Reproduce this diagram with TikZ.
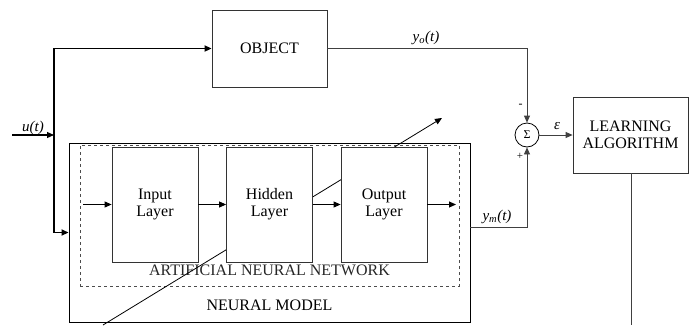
\documentclass[tikz,border=0pt]{standalone}
\usepackage{fontspec}
\setmainfont{Liberation Serif}
\usetikzlibrary{arrows.meta}
\begin{document}
\begin{tikzpicture}[x=1pt,y=-1pt,
  txt/.style={font=\fontsize{16}{18}\selectfont},
  blk/.style={draw=black!80,line width=0.8pt,fill=white,inner sep=0pt,align=center,txt},
  lbl/.style={font=\fontsize{15}{17}\selectfont\itshape,inner sep=0pt},
  thin/.style={draw=black!75,line width=0.8pt},
  thick/.style={draw=black,line width=1.7pt},
  tip/.style={-{Triangle[length=7pt,width=6pt]}}]
\useasboundingbox (0,0) rectangle (691,325);
% neural model and ANN frames
\node[draw=black,line width=0.9pt,minimum width=401pt,minimum height=179pt,inner sep=0pt] (nm) at (269.5,232.5) {};
\node[draw=black!70,dashed,line width=0.8pt,minimum width=379pt,minimum height=141pt,inner sep=0pt] (ann) at (269.5,215.5) {};
\node[txt,text=black!85] (anntxt) at (269.5,270) {ARTIFICIAL NEURAL NETWORK};
\node[txt] (nmtxt) at (269.5,305) {NEURAL MODEL};
% diagonal adaptation arrow
\coordinate (d0) at (103,325);
\coordinate (d1) at (442,118);
\draw[line width=0.8pt,tip] (d0) -- (d1);
% layers
\node[blk,minimum width=86pt,minimum height=115pt] (inl) at (155,204.5) {Input\\[-1pt]Layer};
\node[blk,minimum width=86pt,minimum height=115pt] (hid) at (269.5,204.5) {Hidden\\[-1pt]Layer};
\node[blk,minimum width=86pt,minimum height=115pt] (outl) at (384,204.5) {Output\\[-1pt]Layer};
\coordinate (ain) at (83,204.5);
\coordinate (aout) at (456,204.5);
\draw[line width=0.9pt,tip] (ain) -- (inl);
\draw[line width=0.9pt,tip] (inl) -- (hid);
\draw[line width=0.9pt,tip] (hid) -- (outl);
\draw[line width=0.9pt,tip] (outl) -- (aout);
% object, sum, learning
\node[blk,minimum width=115pt,minimum height=77pt] (obj) at (269.5,48.5) {OBJECT};
\node[draw=black,line width=0.8pt,circle,minimum size=24pt,inner sep=0pt,font=\fontsize{12}{12}\selectfont] (sum) at (527,135) {Σ};
\node[blk,minimum width=115pt,minimum height=76pt] (la) at (630.5,135) {LEARNING\\[-1pt]ALGORITHM};
% input u(t)
\coordinate (uin) at (12,135);
\coordinate (ju) at (54,135);
\coordinate (jtop) at (54,48.5);
\coordinate (jbot) at (54,232.5);
\draw[line width=1.1pt,tip] (uin) -- (ju);
\draw[thick,tip] (jbot) -- (jtop) -- (obj.west);
\draw[thick,tip] (ju) -- (jbot) -- (nm.west);
\node[lbl] (ut) at (33,128) {u(t)};
% y_o
\coordinate (yo) at (527,48.5);
\draw[thin,tip] (obj.east) -- (yo) -- (sum.north);
\node[lbl] (yot) at (426,38) {y\textsubscript{o}(t)};
\node[font=\fontsize{12}{12}\selectfont,inner sep=0pt] (minus) at (520.5,106) {-};
% y_m
\coordinate (ymc) at (470,227);
\coordinate (ym) at (527,227);
\draw[thin,tip] (ymc) -- (ym) -- (sum.south);
\node[lbl] (ymt) at (497,217) {y\textsubscript{m}(t)};
\node[font=\fontsize{11}{11}\selectfont,inner sep=0pt] (plus) at (520,156) {+};
% epsilon
\draw[thin,tip] (sum) -- (la.west);
\node[lbl] (eps) at (557,126) {ε};
% learning output
\coordinate (lb) at (631,325);
\draw[thin] (la.south -| lb) -- (lb);
\end{tikzpicture}
\end{document}
